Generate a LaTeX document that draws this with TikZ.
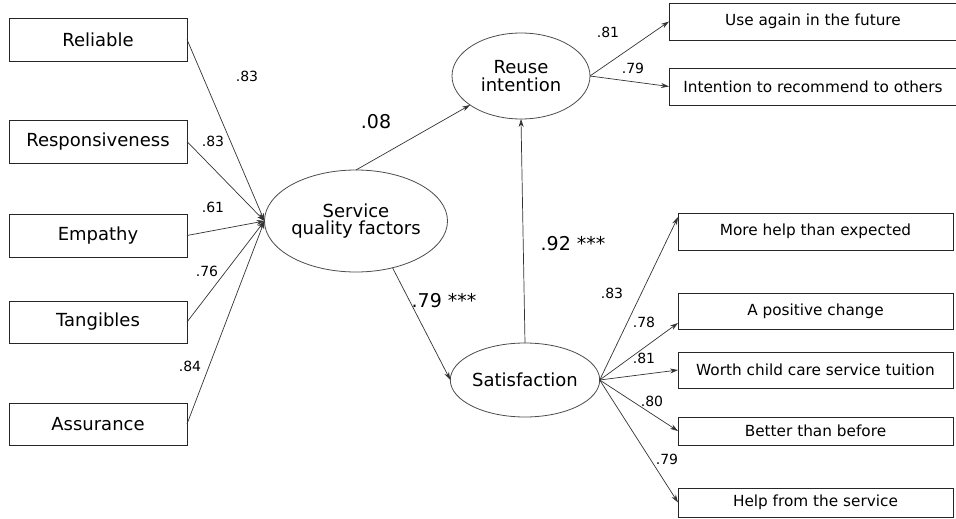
\documentclass[tikz,border=0pt]{standalone}
\usepackage{fontspec}
\setmainfont{DejaVu Sans}
\usetikzlibrary{arrows.meta,shapes.geometric}
\begin{document}
\begin{tikzpicture}[x=1pt,y=-1pt,
  every node/.style={inner sep=0pt,outer sep=0pt},
  lbox/.style={draw=black!85,line width=0.9pt,rectangle,minimum width=178pt,font=\fontsize{18}{20}\selectfont},
  rbox/.style={draw=black!85,line width=0.9pt,rectangle,font=\fontsize{15.3}{17}\selectfont},
  latent/.style={draw=black!70,line width=0.8pt,ellipse,align=center,font=\fontsize{18}{19}\selectfont},
  lab/.style={font=\fontsize{14}{16}\selectfont},
  biglab/.style={font=\fontsize{19}{21}\selectfont},
  conn/.style={draw=black!80,line width=0.7pt,-{Stealth[length=8pt,width=5pt]}},
  line/.style={draw=black!80,line width=0.7pt}]
\useasboundingbox (0,0) rectangle (956,519);
% left indicator boxes
\node[lbox,minimum height=43pt] (rel) at (98,39.5) {Reliable};
\node[lbox,minimum height=43pt] (res) at (98,141.5) {Responsiveness};
\node[lbox,minimum height=43pt] (emp) at (98,235.5) {Empathy};
\node[lbox,minimum height=42pt] (tan) at (98,322) {Tangibles};
\node[lbox,minimum height=42pt] (ass) at (98,424) {Assurance};
% latent variables
\node[latent,minimum width=160pt,minimum height=102pt] (svc) at (356,221) {Service\\[-2pt]quality factors};
\node[latent,minimum width=138pt,minimum height=86pt] (reu) at (521,76) {Reuse\\[-1pt]intention};
\node[latent,minimum width=146pt,minimum height=74pt] (sat) at (525,380) {Satisfaction};
% right indicator boxes
\node[rbox,minimum width=288pt,minimum height=37pt] (use) at (813,21.5) {Use again in the future};
\node[rbox,minimum width=288pt,minimum height=37pt] (rec) at (813,86.5) {Intention to recommend to others};
\node[rbox,minimum width=275pt,minimum height=37pt] (mh) at (815.5,231.5) {More help than expected};
\node[rbox,minimum width=275pt,minimum height=36pt] (pc) at (815.5,311) {A positive change};
\node[rbox,minimum width=275pt,minimum height=36pt] (wc) at (815.5,370) {Worth child care service tuition};
\node[rbox,minimum width=275pt,minimum height=28pt] (bb) at (815.5,431) {Better than before};
\node[rbox,minimum width=275pt,minimum height=29pt] (hs) at (815.5,502.5) {Help from the service};
% connectors into service quality
\draw[conn] (rel.east) -- (svc.west);
\draw[conn] (res.east) -- (svc.west);
\draw[conn] (emp.east) -- (svc.west);
\draw[conn] (tan.east) -- (svc.west);
\draw[conn] (ass.east) -- (svc.west);
% structural paths
\draw[conn] (svc.north) -- (reu);
\draw[conn] (svc.-52) -- (sat.west);
\draw[conn] (sat.north) -- (reu.south);
% reuse indicators
\draw[conn] (reu.east) -- (use.west);
\draw[conn] (reu.east) -- (rec.west);
% satisfaction indicators
\draw[conn] (sat.east) -- ([yshift=-4pt]mh.north west);
\draw[conn] (sat.east) -- ([yshift=6pt]pc.south west);
\draw[conn] (sat.east) -- (wc.west);
\draw[conn] (sat.east) -- (bb.west);
\draw[conn] (sat.east) -- (hs.west);
% labels
\node[lab] (l1) at (247,76) {.83};
\node[lab] (l2) at (213,141) {.83};
\node[lab] (l3) at (213,207) {.61};
\node[lab] (l4) at (207,271) {.76};
\node[lab] (l5) at (190,366) {.84};
\node[biglab] (l6) at (376,122) {.08};
\node[biglab] (l7) at (573,244) {.92 ***};
\node[biglab] (l8) at (444,301) {.79 ***};
\node[lab] (l9) at (608,32) {.81};
\node[lab] (l10) at (633,68) {.79};
\node[lab] (l11) at (612,293) {.83};
\node[lab] (l12) at (644,322) {.78};
\node[lab] (l13) at (644,358) {.81};
\node[lab] (l14) at (652,401) {.80};
\node[lab] (l15) at (667,459) {.79};
\end{tikzpicture}
\end{document}
